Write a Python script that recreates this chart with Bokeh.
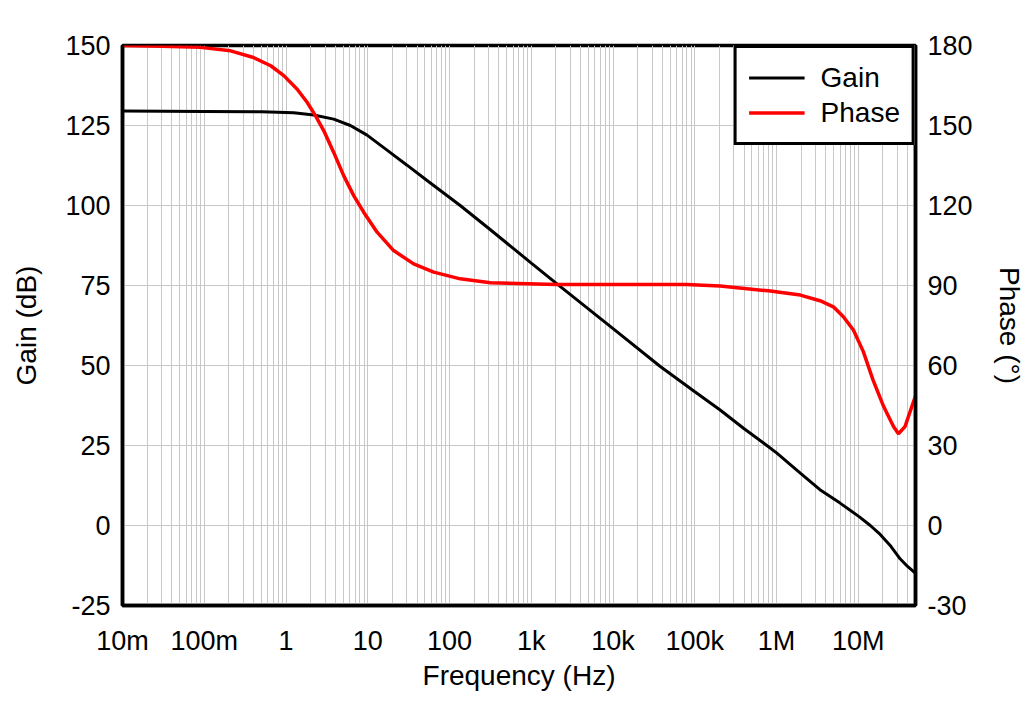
from bokeh.plotting import figure
from bokeh.models import (Range1d, LinearAxis, FixedTicker, CustomJSTickFormatter,
                          Legend, LegendItem)
from bokeh.embed import file_html
from bokeh.resources import INLINE

# ---------------- data ----------------
gain_freq = [0.01, 0.1, 0.5, 1.24, 2.18, 3.83, 6.12, 9.8, 17.2, 30.2, 53.1, 135,
             300, 1e3, 2.06e3, 1e4, 3.78e4, 1e5, 2.04e5, 3.94e5, 6.92e5, 1e6,
             1.95e6, 3.39e6, 5.98e6, 1.03e7, 1.4e7, 1.85e7, 2.5e7, 3.24e7, 4e7,
             4.94e7, 5e7]
gain_db = [129.5, 129.4, 129.3, 129.0, 128.3, 127.0, 125.0, 122.0, 117.3, 112.6,
           107.8, 100.0, 92.9, 82.0, 75.5, 61.5, 49.7, 41.8, 36.1, 30.4, 25.8, 22.7,
           16.4, 11.2, 7.0, 2.7, 0.0, -2.8, -6.5, -10.4, -12.8, -14.8, -14.9]

phase_freq = [0.01, 0.03, 0.09, 0.21, 0.40, 0.65, 0.94, 1.37, 1.81, 2.29, 2.89, 3.83,
              5.07, 6.73, 8.91, 13.0, 20.7, 36.4, 64, 135, 316, 2e3, 7.9e4, 2.04e5,
              7.94e5, 1.95e6, 3.4e6, 4.95e6, 6.56e6, 8.7e6, 1.15e7, 1.51e7, 2.04e7,
              2.69e7, 3.09e7, 3.72e7, 4.73e7, 5e7]
phase_deg = [180.0, 179.7, 179.3, 178.0, 175.5, 172.4, 168.7, 163.6, 158.7, 153.7,
             148.1, 139.9, 131.2, 123.7, 117.5, 110.0, 103.1, 98.1, 95.0, 92.5, 91.0,
             90.4, 90.4, 89.8, 88.0, 86.4, 84.3, 82.0, 78.3, 73.3, 65.2, 54.6, 44.6,
             37.1, 34.4, 37.1, 46.5, 48.5]

x_tick_values = [1e-2, 1e-1, 1, 10, 100, 1e3, 1e4, 1e5, 1e6, 1e7]
x_tick_labels = ["10m", "100m", "1", "10", "100", "1k", "10k", "100k", "1M", "10M"]
gain_ticks = [-25, 0, 25, 50, 75, 100, 125, 150]
phase_ticks = [-30, 0, 30, 60, 90, 120, 150, 180]

FONT = "Liberation Sans"
GRID = "#c8c8c8"

p = figure(width=1030, height=695, x_axis_type="log",
           x_range=Range1d(0.01, 5e7), y_range=Range1d(-25, 150),
           output_backend="svg", toolbar_location=None,
           min_border_left=122, min_border_right=115,
           min_border_top=45, min_border_bottom=90)
p.extra_y_ranges = {"phase": Range1d(-30, 180)}

minor = [m * 10.0 ** e for e in range(-2, 8) for m in range(2, 10) if m * 10.0 ** e <= 5e7]

xa = p.xaxis[0]
xa.ticker = FixedTicker(ticks=x_tick_values, minor_ticks=minor)
xa.formatter = CustomJSTickFormatter(args=dict(labels=x_tick_labels),
                                     code="return labels[Math.round(Math.log10(tick)) + 2];")
xa.axis_label = "Frequency (Hz)"

ya = p.yaxis[0]
ya.ticker = FixedTicker(ticks=gain_ticks)
ya.formatter = CustomJSTickFormatter(code="return tick.toFixed(0);")
ya.axis_label = "Gain (dB)"

ra = LinearAxis(y_range_name="phase", ticker=FixedTicker(ticks=phase_ticks),
                formatter=CustomJSTickFormatter(code="return tick.toFixed(0);"),
                axis_label="Phase (°)")
p.add_layout(ra, "right")

for ax, st_label, st_axis in ((xa, 20, 1), (ya, 12, 20), (ra, 12, 18)):
    ax.major_tick_line_color = None
    ax.minor_tick_line_color = None
    ax.major_tick_out = 0
    ax.minor_tick_out = 0
    ax.axis_line_color = "black"
    ax.axis_line_width = 3.5
    ax.major_label_text_font = FONT
    ax.major_label_text_font_size = "27px"
    ax.major_label_text_color = "black"
    ax.major_label_standoff = st_label
    ax.axis_label_text_font = FONT
    ax.axis_label_text_font_size = "28px"
    ax.axis_label_text_font_style = "normal"
    ax.axis_label_text_color = "black"
    ax.axis_label_standoff = st_axis

p.xgrid.grid_line_color = GRID
p.xgrid.minor_grid_line_color = GRID
p.xgrid.grid_line_width = 1
p.xgrid.minor_grid_line_width = 1
p.ygrid.grid_line_color = GRID
p.ygrid.grid_line_width = 1

p.outline_line_color = "black"
p.outline_line_width = 3.5
p.outline_line_alpha = 1

g = p.line(gain_freq, gain_db, line_color="black", line_width=3)
ph = p.line(phase_freq, phase_deg, line_color="#ff0000", line_width=3.5, y_range_name="phase")

legend = Legend(items=[LegendItem(label="Gain", renderers=[g]),
                       LegendItem(label="Phase", renderers=[ph])],
                location="top_right", margin=0, padding=12, spacing=0,
                glyph_width=56, glyph_height=35, label_height=35, label_standoff=16,
                label_text_font=FONT, label_text_font_size="28px",
                label_text_color="black",
                border_line_color="black", border_line_width=3.5, border_line_alpha=1,
                background_fill_color="white", background_fill_alpha=1)
p.add_layout(legend, "center")

open("out.html", "w").write(file_html(p, INLINE))
